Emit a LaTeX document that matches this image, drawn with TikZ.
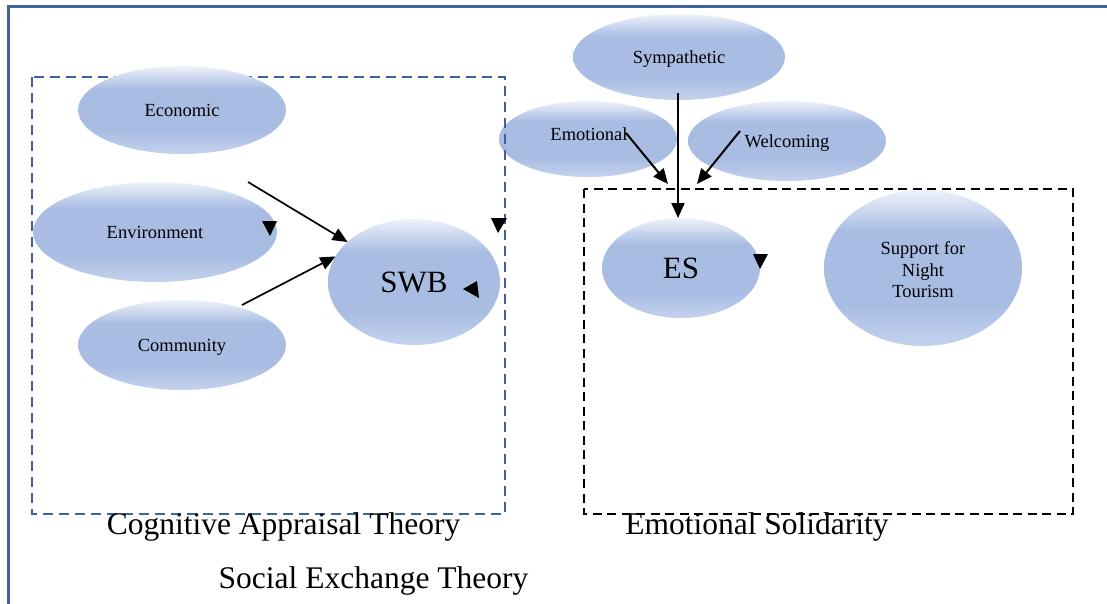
\documentclass[tikz,border=0pt]{standalone}
\usepackage{fontspec}
\setmainfont{Liberation Serif}
\usetikzlibrary{arrows.meta,shapes.geometric}

\definecolor{frameblue}{RGB}{64,96,158}
\definecolor{etop}{RGB}{238,242,250}
\definecolor{emid}{RGB}{169,189,227}
\definecolor{ebot}{RGB}{196,210,237}

% pale top, flat middle, slightly pale bottom
\pgfdeclareverticalshading{ellfill}{100bp}{color(0bp)=(ebot); color(25bp)=(ebot); color(38bp)=(emid); color(62bp)=(emid); color(75bp)=(etop); color(100bp)=(etop)}

\tikzset{
  ell/.style={ellipse, shading=ellfill, inner sep=0pt, outer sep=0pt,
              font=\fontsize{18.5}{21.5}\selectfont, text depth=0pt},
  ellmulti/.style={ellipse, shading=ellfill, inner sep=0pt, outer sep=0pt,
              font=\fontsize{18.5}{21.5}\selectfont, align=center},
  ellbig/.style={ell, font=\fontsize{31}{36}\selectfont},
  lbl/.style={inner sep=0pt, font=\fontsize{18.5}{21.5}\selectfont},
  theory/.style={inner sep=0pt, font=\fontsize{31.5}{36}\selectfont},
  link/.style={draw=black, line width=2pt, -{Triangle[length=15pt,width=13pt]}},
  casebox/.style={draw=frameblue, line width=2.5pt, dash pattern=on 10pt off 6pt},
  esbox/.style={draw=black, line width=2.5pt, dash pattern=on 9pt off 5.5pt},
  tip/.style={fill=black},
}

\begin{document}
\begin{tikzpicture}[x=1pt,y=-1pt]
\useasboundingbox (0,0) rectangle (1107,604);

% outer frame, running past the right and bottom edges
\coordinate (f1) at (8,604);
\coordinate (f2) at (8,7);
\coordinate (f3) at (1107,7);
\draw[frameblue, line width=3pt] (f1) -- (f2) -- (f3);

% emotional solidarity antecedent, behind the left box edge
\node[ell, minimum width=178pt, minimum height=76pt] (emo) at (588,139) {};
\node[lbl] (emoT) at (589,134) {Emotional};

% theory boxes
\draw[casebox] (32,77) rectangle (505,514);
\draw[esbox] (584,189) rectangle (1073,514);

% left-hand constructs
\node[ell, minimum width=208pt, minimum height=88pt] (eco) at (182,110) {Economic};
\node[ell, minimum width=244pt, minimum height=100pt] (env) at (155,232) {Environment};
\node[ell, minimum width=208pt, minimum height=90pt] (com) at (182,345) {Community};
\node[ellbig, minimum width=172pt, minimum height=126pt] (swb) at (414,282) {SWB};

% right-hand constructs
\node[ell, minimum width=212pt, minimum height=86pt] (sym) at (679,57) {Sympathetic};
\node[ell, minimum width=198pt, minimum height=80pt] (wel) at (787,141) {Welcoming};
\node[ellbig, minimum width=158pt, minimum height=100pt] (es) at (681,268) {ES};
\node[ellmulti, minimum width=198pt, minimum height=156pt] (sup) at (923,268) {\rule{0pt}{17pt}Support for\\Night\\Tourism};

% connectors
\coordinate (a1) at (248,182);
\coordinate (a2) at (242,305);
\draw[link, line width=1.7pt] (a1) -- (swb);
\draw[link, line width=1.7pt] (a2) -- (swb.162.5);

\coordinate (symB) at (678,93);
\draw[link] (symB) -- (symB |- es.north);

\coordinate (e1) at (626,133);
\coordinate (e2) at (668,184);
\draw[link] (e1) -- (e2);
\coordinate (w1) at (740,131);
\coordinate (w2) at (697,184);
\draw[link] (w1) -- (w2);

% loose arrowheads
\fill[tip] (262,221) -- (277,221) -- (270,236) -- cycle;
\fill[tip] (491,218) -- (507,218) -- (498,233) -- cycle;
\fill[tip] (463,289) -- (477,281) -- (479,298) -- cycle;
\fill[tip] (753,254) -- (768,254) -- (760,269) -- cycle;

% theory labels
\node[theory] (cat) at (283.5,527) {Cognitive Appraisal Theory};
\node[theory] (set) at (373.5,581) {Social Exchange Theory};
\node[theory] (eso) at (757,527) {Emotional Solidarity};
\end{tikzpicture}
\end{document}
